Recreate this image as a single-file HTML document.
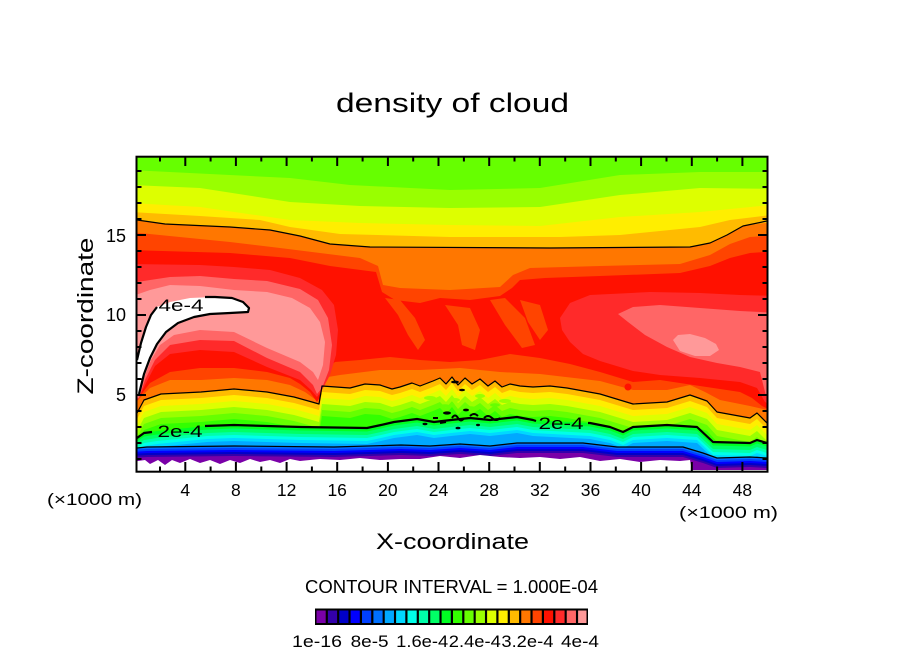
<!DOCTYPE html>
<html>
<head>
<meta charset="utf-8">
<style>
html,body{margin:0;padding:0;background:#ffffff;}
svg{display:block;}
text{font-family:"Liberation Sans",Arial,sans-serif;fill:#000;}
</style>
</head>
<body>
<svg width="904" height="654" viewBox="0 0 904 654" xmlns="http://www.w3.org/2000/svg">
<rect x="0" y="0" width="904" height="654" fill="#ffffff"/>
<defs>
<clipPath id="pc"><rect x="137" y="157" width="630" height="314"/></clipPath>
</defs>

<g clip-path="url(#pc)">
<rect x="130" y="150" width="650" height="330" fill="#66ff00"/>
<path fill="#99ff00" d="M130,170 L290,178 L350,185 L450,190 L540,188 L620,175 L700,172 L780,172 V490 H130Z"/>
<path fill="#ddff00" d="M130,185 L200,188 L290,202 L360,206 L450,208 L540,207 L620,195 L700,188 L780,189 V490 H130Z"/>
<path fill="#ffee00" d="M130,203 L200,207 L290,220 L360,223 L450,225 L540,226 L620,217 L700,212 L780,204 V490 H130Z"/>
<path fill="#ffbb00" d="M130,212 L200,216 L260,220 L290,227 L340,234 L450,237 L560,237 L620,235 L700,227 L730,220 L780,214 V490 H130Z"/>
<path fill="#ff7700" d="M130,220 L165,224 L230,227 L270,230 L300,236 L330,244 L370,247 L550,248 L690,247 L710,243 L727,235 L743,226 L780,221 V490 H130Z"/>
<path fill="#ff4400" d="M130,232 L230,242 L280,248 L320,253 L360,258 L378,266 L383,285 L400,288 L450,290 L500,287 L513,275 L530,268 L600,266 L680,264 L710,255 L730,244 L750,237 L780,235 V490 H130Z"/>

<path fill="#ff7700" d="M130,408 L140,398 L150,388 L170,380 L201,380 L234,378 L267,380 L290,385 L305,392 L316,400 L322,378 L340,375 L380,370 L420,370 L460,368 L500,372 L540,374 L600,381 L633,390 L667,390 L690,385 L705,392 L720,400 L750,406 L780,413 V490 H130Z"/>
<path fill="#ffbb00" d="M130,418 L136,415 L144,400 L161,394 L201,392 L234,389 L267,392 L294,397 L312,402 L319,404 L322,386 L350,388 L365,384 L380,385 L392,389 L400,387 L412,383 L420,386 L433,381 L440,378 L446,384 L452,377 L458,385 L465,378 L472,384 L480,379 L488,386 L495,381 L502,387 L510,384 L520,386 L533,387 L550,386 L567,388 L600,394 L633,404 L667,402 L690,395 L707,401 L717,412 L750,418 L757,413 L768,424 L780,425 V500 H130Z"/>
<path transform="translate(0,6)" fill="#ffee00" d="M130,418 L136,415 L144,400 L161,394 L201,392 L234,389 L267,392 L294,397 L312,402 L319,404 L322,386 L350,388 L365,384 L380,385 L392,389 L400,387 L412,383 L420,386 L433,381 L440,378 L446,384 L452,377 L458,385 L465,378 L472,384 L480,379 L488,386 L495,381 L502,387 L510,384 L520,386 L533,387 L550,386 L567,388 L600,394 L633,404 L667,402 L690,395 L707,401 L717,412 L750,418 L757,413 L768,424 L780,425 V500 H130Z"/>
<path transform="translate(0,12)" fill="#ddff00" d="M130,418 L136,415 L144,400 L161,394 L201,392 L234,389 L267,392 L294,397 L312,402 L319,404 L322,386 L350,388 L365,384 L380,385 L392,389 L400,387 L412,383 L420,386 L433,381 L440,378 L446,384 L452,377 L458,385 L465,378 L472,384 L480,379 L488,386 L495,381 L502,387 L510,384 L520,386 L533,387 L550,386 L567,388 L600,394 L633,404 L667,402 L690,395 L707,401 L717,412 L750,418 L757,413 L768,424 L780,425 V500 H130Z"/>
<path transform="translate(0,18)" fill="#99ff00" d="M130,418 L136,415 L144,400 L161,394 L201,392 L234,389 L267,392 L294,397 L312,402 L319,404 L322,386 L350,388 L365,384 L380,385 L392,389 L400,387 L412,383 L420,386 L433,381 L440,378 L446,384 L452,377 L458,385 L465,378 L472,384 L480,379 L488,386 L495,381 L502,387 L510,384 L520,386 L533,387 L550,386 L567,388 L600,394 L633,404 L667,402 L690,395 L707,401 L717,412 L750,418 L757,413 L768,424 L780,425 V500 H130Z"/>
<path transform="translate(0,24)" fill="#66ff00" d="M130,418 L136,415 L144,400 L161,394 L201,392 L234,389 L267,392 L294,397 L312,402 L319,404 L322,386 L350,388 L365,384 L380,385 L392,389 L400,387 L412,383 L420,386 L433,381 L440,378 L446,384 L452,377 L458,385 L465,378 L472,384 L480,379 L488,386 L495,381 L502,387 L510,384 L520,386 L533,387 L550,386 L567,388 L600,394 L633,404 L667,402 L690,395 L707,401 L717,412 L750,418 L757,413 L768,424 L780,425 V500 H130Z"/>
<path transform="translate(0,30)" fill="#33ff00" d="M130,418 L136,415 L144,400 L161,394 L201,392 L234,389 L267,392 L294,397 L312,402 L319,404 L322,386 L350,388 L365,384 L380,385 L392,389 L400,387 L412,383 L420,386 L433,381 L440,378 L446,384 L452,377 L458,385 L465,378 L472,384 L480,379 L488,386 L495,381 L502,387 L510,384 L520,386 L533,387 L550,386 L567,388 L600,394 L633,404 L667,402 L690,395 L707,401 L717,412 L750,418 L757,413 L768,424 L780,425 V500 H130Z"/>
<!-- mottling in middle -->
<g fill="#99ff00">
<ellipse cx="430" cy="398" rx="6" ry="2"/>
<ellipse cx="455" cy="400" rx="5" ry="2"/>
<ellipse cx="480" cy="396" rx="5" ry="2"/>
<ellipse cx="505" cy="401" rx="6" ry="2"/>
</g>
<g fill="#66ff00">
<ellipse cx="445" cy="406" rx="5" ry="1.8"/>
<ellipse cx="470" cy="408" rx="6" ry="1.8"/>
<ellipse cx="495" cy="405" rx="5" ry="1.8"/>
</g>

<path fill="#00ff22" d="M130,440 L137,438 L144,433 L157,431 L207,426 L234,425 L301,427 L367,428 L381,425 L394,422 L417,419 L434,422 L451,420 L470,418 L490,420 L517,417 L533,420 L590,423 L610,427 L623,432 L633,427 L667,425 L697,427 L713,442 L750,443 L757,440 L767,443 L780,443 V500 H130Z"/>
<path transform="translate(0,3.5)" fill="#00ff66" d="M130,440 L137,438 L144,433 L157,431 L207,426 L234,425 L301,427 L367,428 L381,425 L394,422 L417,419 L434,422 L451,420 L470,418 L490,420 L517,417 L533,420 L590,423 L610,427 L623,432 L633,427 L667,425 L697,427 L713,442 L750,443 L757,440 L767,443 L780,443 V500 H130Z"/>
<path transform="translate(0,7)" fill="#00ffaa" d="M130,440 L137,438 L144,433 L157,431 L207,426 L234,425 L301,427 L367,428 L381,425 L394,422 L417,419 L434,422 L451,420 L470,418 L490,420 L517,417 L533,420 L590,423 L610,427 L623,432 L633,427 L667,425 L697,427 L713,442 L750,443 L757,440 L767,443 L780,443 V500 H130Z"/>
<path transform="translate(0,10)" fill="#00ffe8" d="M130,440 L137,438 L144,433 L157,431 L207,426 L234,425 L301,427 L367,428 L381,425 L394,422 L417,419 L434,422 L451,420 L470,418 L490,420 L517,417 L533,420 L590,423 L610,427 L623,432 L633,427 L667,425 L697,427 L713,442 L750,443 L757,440 L767,443 L780,443 V500 H130Z"/>
<path transform="translate(0,13)" fill="#00d8ff" d="M130,440 L137,438 L144,433 L157,431 L207,426 L234,425 L301,427 L367,428 L381,425 L394,422 L417,419 L434,422 L451,420 L470,418 L490,420 L517,417 L533,420 L590,423 L610,427 L623,432 L633,427 L667,425 L697,427 L713,442 L750,443 L757,440 L767,443 L780,443 V500 H130Z"/>
<path transform="translate(0,16)" fill="#00a8ff" d="M130,440 L137,438 L144,433 L157,431 L207,426 L234,425 L301,427 L367,428 L381,425 L394,422 L417,419 L434,422 L451,420 L470,418 L490,420 L517,417 L533,420 L590,423 L610,427 L623,432 L633,427 L667,425 L697,427 L713,442 L750,443 L757,440 L767,443 L780,443 V500 H130Z"/>

<path fill="#0070ff" d="M130,448 L147,447 L234,446 L334,447 L401,445 L430,446 L460,444 L490,446 L517,443 L583,443 L617,447 L683,447 L703,453 L717,458 L750,457 L767,458 L780,458 V500 H130Z"/>
<path transform="translate(0,2)" fill="#0040ff" d="M130,448 L147,447 L234,446 L334,447 L401,445 L430,446 L460,444 L490,446 L517,443 L583,443 L617,447 L683,447 L703,453 L717,458 L750,457 L767,458 L780,458 V500 H130Z"/>
<path transform="translate(0,4)" fill="#0000ff" d="M130,448 L147,447 L234,446 L334,447 L401,445 L430,446 L460,444 L490,446 L517,443 L583,443 L617,447 L683,447 L703,453 L717,458 L750,457 L767,458 L780,458 V500 H130Z"/>
<path transform="translate(0,6)" fill="#0000c8" d="M130,448 L147,447 L234,446 L334,447 L401,445 L430,446 L460,444 L490,446 L517,443 L583,443 L617,447 L683,447 L703,453 L717,458 L750,457 L767,458 L780,458 V500 H130Z"/>
<path transform="translate(0,8)" fill="#3300aa" d="M130,448 L147,447 L234,446 L334,447 L401,445 L430,446 L460,444 L490,446 L517,443 L583,443 L617,447 L683,447 L703,453 L717,458 L750,457 L767,458 L780,458 V500 H130Z"/>
<path transform="translate(0,10)" fill="#7a00a8" d="M130,448 L147,447 L234,446 L334,447 L401,445 L430,446 L460,444 L490,446 L517,443 L583,443 L617,447 L683,447 L703,453 L717,458 L750,457 L767,458 L780,458 V500 H130Z"/>

<path fill="#ffffff" d="M130,462 L145,460 L150,464 L158,460 L165,465 L172,460 L180,463 L190,459 L200,463 L210,460 L220,464 L230,460 L240,463 L250,459 L260,462 L270,460 L280,463 L290,459 L300,461 L320,459 L340,460 L360,458 L380,460 L400,459 L420,459 L440,456 L460,458 L480,455 L500,457 L520,458 L540,457 L560,459 L580,457 L600,461 L620,459 L640,462 L660,460 L680,461 L690,460 L692,470 L780,470 V500 H130Z"/>

<path fill="#ff1100" d="M130,250 L230,253 L290,258 L330,266 L376,272 L382,292 L395,300 L420,303 L440,298 L470,300 L500,296 L512,288 L520,280 L545,278 L600,276 L680,273 L710,266 L730,258 L750,253 L780,251 L780,415 L762,406 L752,398 L740,392 L700,386 L660,380 L633,382 L600,372 L570,364 L540,358 L510,354 L480,360 L450,362 L420,360 L390,357 L360,360 L335,362 L325,370 L321,396 L317,402 L310,392 L300,384 L290,378 L267,372 L234,368 L200,368 L170,372 L150,383 L140,396 L130,404Z"/>
<path fill="#ff4400" d="M385,298 L400,300 L415,318 L425,340 L418,350 L408,335 L398,315Z"/>
<path fill="#ff4400" d="M445,305 L470,308 L480,330 L475,350 L462,345 L458,325Z"/>
<path fill="#ff4400" d="M490,300 L505,298 L525,318 L535,345 L522,348 L505,325Z"/>
<path fill="#ff4400" d="M520,300 L540,305 L548,330 L540,340 L528,322Z"/>
<circle cx="628" cy="387" r="3.5" fill="#ff1100"/>

<path fill="#ff2a2a" d="M130,264 L200,265 L234,267 L270,270 L300,278 L322,290 L334,305 L338,330 L336,355 L330,375 L322,390 L317,397 L311,390 L300,380 L267,367 L234,352 L200,350 L170,354 L155,366 L145,385 L138,400 L130,404Z"/>
<path fill="#ff6666" d="M130,283 L170,277 L200,276 L234,279 L267,281 L300,289 L318,300 L328,318 L332,345 L329,370 L322,388 L317,394 L313,385 L300,372 L267,358 L234,341 L200,340 L170,345 L155,360 L145,380 L139,398 L130,400Z"/>
<path fill="#ff9999" d="M130,297 L150,290 L170,285 L200,286 L234,290 L267,292 L292,298 L310,308 L320,322 L325,342 L323,365 L318,380 L313,372 L300,362 L267,348 L234,332 L200,330 L174,335 L160,345 L151,360 L144,378 L139,396 L130,398Z"/>
<path fill="#ffffff" d="M130,360 L137,360 L141,343 L146,327 L151,315 L157,307 L170,302 L190,298 L215,297 L232,298 L243,302 L249,308 L248,312 L230,313 L210,314 L194,317 L178,323 L166,332 L157,344 L150,358 L144,374 L139,394 L130,396Z"/>

<path fill="#ff2a2a" d="M560,318 L570,303 L590,295 L650,292 L700,293 L740,295 L780,296 L780,410 L765,402 L757,388 L740,382 L700,378 L660,375 L633,371 L600,361 L583,354 L570,342 L562,330Z"/>
<path fill="#ff6666" d="M618,314 L633,307 L660,305 L700,308 L740,311 L780,313 L780,400 L766,396 L760,372 L740,367 L717,363 L690,357 L667,347 L645,335 L628,322Z"/>
<path fill="#ff9999" d="M673,340 L678,335 L690,334 L705,338 L716,344 L719,350 L710,356 L695,356 L680,351Z"/>

<g fill="none" stroke="#000" stroke-linejoin="round">
<path stroke-width="1.2" d="M137,220 L165,224 L230,227 L270,230 L300,236 L330,244 L370,247 L550,248 L690,247 L710,243 L727,235 L743,226 L767,221"/>
<path stroke-width="1.2" d="M130,418 L136,415 L144,400 L161,394 L201,392 L234,389 L267,392 L294,397 L312,402 L319,404 L322,386 L350,388 L365,384 L380,385 L392,389 L400,387 L412,383 L420,386 L433,381 L440,378 L446,384 L452,377 L458,385 L465,378 L472,384 L480,379 L488,386 L495,381 L502,387 L510,384 L520,386 L533,387 L550,386 L567,388 L600,394 L633,404 L667,402 L690,395 L707,401 L717,412 L750,418 L757,413 L768,424"/>
<path stroke-width="2.2" d="M137,438 L144,433 L152,432 M205,426 L234,425 L301,427 L367,428 L381,425 L394,422 L417,419 L434,422 L451,420 L470,418 L490,420 L517,417 L533,420 L536,421 M588,423 L590,423 L610,427 L623,432 L633,427 L667,425 L697,427 L713,442 L750,443 L757,440 L767,443"/>
<path stroke-width="1.2" d="M137,448 L147,447 L234,446 L334,447 L401,445 L430,446 L460,444 L490,446 L517,443 L583,443 L617,447 L683,447 L703,453 L717,458 L750,457 L767,458"/>
<path stroke-width="2.2" d="M137,360 L141,343 L146,327 L151,315 L157,307 M205,297 L215,297 L232,298 L243,302 L249,308 L248,312 L230,313 L210,314 L194,317 L178,323 L166,332 L157,344 L150,358 L144,374 L139,394"/>
<path stroke-width="2" d="M452,418 q3,-5 6,0 q3,5 6,0 M470,416 q4,-4 8,0 M484,418 q4,-4 8,0 q4,4 8,0 M440,423 l6,-1 M433,418 l5,0"/>
</g>
<g fill="#000">
<ellipse cx="447" cy="413" rx="4" ry="1.6"/>
<ellipse cx="466" cy="410" rx="3" ry="1.4"/>
<ellipse cx="458" cy="428" rx="2.5" ry="1.3"/>
<ellipse cx="478" cy="425" rx="2" ry="1.2"/>
<ellipse cx="455" cy="382" rx="4" ry="1.4"/>
<ellipse cx="462" cy="390" rx="3" ry="1.2"/>
<ellipse cx="425" cy="424" rx="2.5" ry="1.2"/>
</g>
<text x="181" y="311" font-size="17" text-anchor="middle" textLength="45" lengthAdjust="spacingAndGlyphs">4e-4</text>
<text x="180" y="437" font-size="17" text-anchor="middle" textLength="45" lengthAdjust="spacingAndGlyphs">2e-4</text>
<text x="561" y="429" font-size="17" text-anchor="middle" textLength="45" lengthAdjust="spacingAndGlyphs">2e-4</text>
</g>

<rect x="136.5" y="156.7" width="631" height="315" fill="none" stroke="#000" stroke-width="2"/>
<g stroke="#000" stroke-width="2" fill="none">
<path d="M137,395h9 M137,315h9 M137,235h9 M137,459h4.5 M137,443h4.5 M137,427h4.5 M137,411h4.5 M137,379h4.5 M137,363h4.5 M137,347h4.5 M137,331h4.5 M137,299h4.5 M137,283h4.5 M137,267h4.5 M137,251h4.5 M137,219h4.5 M137,203h4.5 M137,187h4.5 M137,171h4.5"/>
<path d="M767,395h-9 M767,315h-9 M767,235h-9 M767,459h-4.5 M767,443h-4.5 M767,427h-4.5 M767,411h-4.5 M767,379h-4.5 M767,363h-4.5 M767,347h-4.5 M767,331h-4.5 M767,299h-4.5 M767,283h-4.5 M767,267h-4.5 M767,251h-4.5 M767,219h-4.5 M767,203h-4.5 M767,187h-4.5 M767,171h-4.5"/>
<path d="M185.3,471v-9 M235.9,471v-9 M286.6,471v-9 M337.2,471v-9 M387.9,471v-9 M438.5,471v-9 M489.2,471v-9 M539.8,471v-9 M590.5,471v-9 M641.1,471v-9 M691.8,471v-9 M742.4,471v-9 M160,471v-4.5 M210.6,471v-4.5 M261.3,471v-4.5 M311.9,471v-4.5 M362.6,471v-4.5 M413.2,471v-4.5 M463.9,471v-4.5 M514.5,471v-4.5 M565.2,471v-4.5 M615.8,471v-4.5 M666.5,471v-4.5 M717.1,471v-4.5"/>
<path d="M185.3,157v9 M235.9,157v9 M286.6,157v9 M337.2,157v9 M387.9,157v9 M438.5,157v9 M489.2,157v9 M539.8,157v9 M590.5,157v9 M641.1,157v9 M691.8,157v9 M742.4,157v9 M160,157v4.5 M210.6,157v4.5 M261.3,157v4.5 M311.9,157v4.5 M362.6,157v4.5 M413.2,157v4.5 M463.9,157v4.5 M514.5,157v4.5 M565.2,157v4.5 M615.8,157v4.5 M666.5,157v4.5 M717.1,157v4.5"/>
</g>

<g font-size="17.5" text-anchor="middle">
<text x="185.3" y="496">4</text>
<text x="235.9" y="496">8</text>
<text x="286.6" y="496">12</text>
<text x="337.2" y="496">16</text>
<text x="387.9" y="496">20</text>
<text x="438.5" y="496">24</text>
<text x="489.2" y="496">28</text>
<text x="539.8" y="496">32</text>
<text x="590.5" y="496">36</text>
<text x="641.1" y="496">40</text>
<text x="691.8" y="496">44</text>
<text x="742.4" y="496">48</text>
</g>
<g font-size="18" text-anchor="end">
<text x="126" y="242">15</text>
<text x="126" y="321">10</text>
<text x="126" y="401">5</text>
</g>

<text x="336" y="112" font-size="27" textLength="233" lengthAdjust="spacingAndGlyphs">density of cloud</text>
<text x="452.5" y="549" font-size="22" text-anchor="middle" textLength="153" lengthAdjust="spacingAndGlyphs">X-coordinate</text>
<text transform="translate(93,316) rotate(-90)" x="0" y="0" font-size="22" text-anchor="middle" textLength="157" lengthAdjust="spacingAndGlyphs">Z-coordinate</text>
<text x="47" y="505" font-size="17" textLength="95" lengthAdjust="spacingAndGlyphs">(×1000 m)</text>
<text x="679" y="518" font-size="17" textLength="99" lengthAdjust="spacingAndGlyphs">(×1000 m)</text>
<text x="305" y="593" font-size="18" textLength="293" lengthAdjust="spacingAndGlyphs">CONTOUR INTERVAL = 1.000E-04</text>

<rect x="315" y="608.5" width="273" height="16.5" fill="#000"/>
<g>
<rect x="316.5" y="610.5" width="9.2" height="12.5" fill="#7a00a8"/>
<rect x="327.9" y="610.5" width="9.2" height="12.5" fill="#3300aa"/>
<rect x="339.25" y="610.5" width="9.2" height="12.5" fill="#0000c8"/>
<rect x="350.6" y="610.5" width="9.2" height="12.5" fill="#0000ff"/>
<rect x="362" y="610.5" width="9.2" height="12.5" fill="#0040ff"/>
<rect x="373.4" y="610.5" width="9.2" height="12.5" fill="#0070ff"/>
<rect x="384.75" y="610.5" width="9.2" height="12.5" fill="#00a8ff"/>
<rect x="396.1" y="610.5" width="9.2" height="12.5" fill="#00d8ff"/>
<rect x="407.5" y="610.5" width="9.2" height="12.5" fill="#00ffe8"/>
<rect x="418.9" y="610.5" width="9.2" height="12.5" fill="#00ffaa"/>
<rect x="430.25" y="610.5" width="9.2" height="12.5" fill="#00ff66"/>
<rect x="441.6" y="610.5" width="9.2" height="12.5" fill="#00ff22"/>
<rect x="453" y="610.5" width="9.2" height="12.5" fill="#33ff00"/>
<rect x="464.4" y="610.5" width="9.2" height="12.5" fill="#66ff00"/>
<rect x="475.75" y="610.5" width="9.2" height="12.5" fill="#99ff00"/>
<rect x="487.1" y="610.5" width="9.2" height="12.5" fill="#ddff00"/>
<rect x="498.5" y="610.5" width="9.2" height="12.5" fill="#ffee00"/>
<rect x="509.9" y="610.5" width="9.2" height="12.5" fill="#ffbb00"/>
<rect x="521.25" y="610.5" width="9.2" height="12.5" fill="#ff7700"/>
<rect x="532.6" y="610.5" width="9.2" height="12.5" fill="#ff4400"/>
<rect x="544" y="610.5" width="9.2" height="12.5" fill="#ff1100"/>
<rect x="555.4" y="610.5" width="9.2" height="12.5" fill="#ff2a2a"/>
<rect x="566.75" y="610.5" width="9.2" height="12.5" fill="#ff6666"/>
<rect x="578.1" y="610.5" width="8.4" height="12.5" fill="#ff9999"/>
</g>
<g font-size="17" text-anchor="middle">
<text x="317" y="647" textLength="50" lengthAdjust="spacingAndGlyphs">1e-16</text>
<text x="369.6" y="647" textLength="38" lengthAdjust="spacingAndGlyphs">8e-5</text>
<text x="422.2" y="647" textLength="52" lengthAdjust="spacingAndGlyphs">1.6e-4</text>
<text x="474.8" y="647" textLength="52" lengthAdjust="spacingAndGlyphs">2.4e-4</text>
<text x="527.4" y="647" textLength="52" lengthAdjust="spacingAndGlyphs">3.2e-4</text>
<text x="580" y="647" textLength="38" lengthAdjust="spacingAndGlyphs">4e-4</text>
</g>
</svg>
</body>
</html>
